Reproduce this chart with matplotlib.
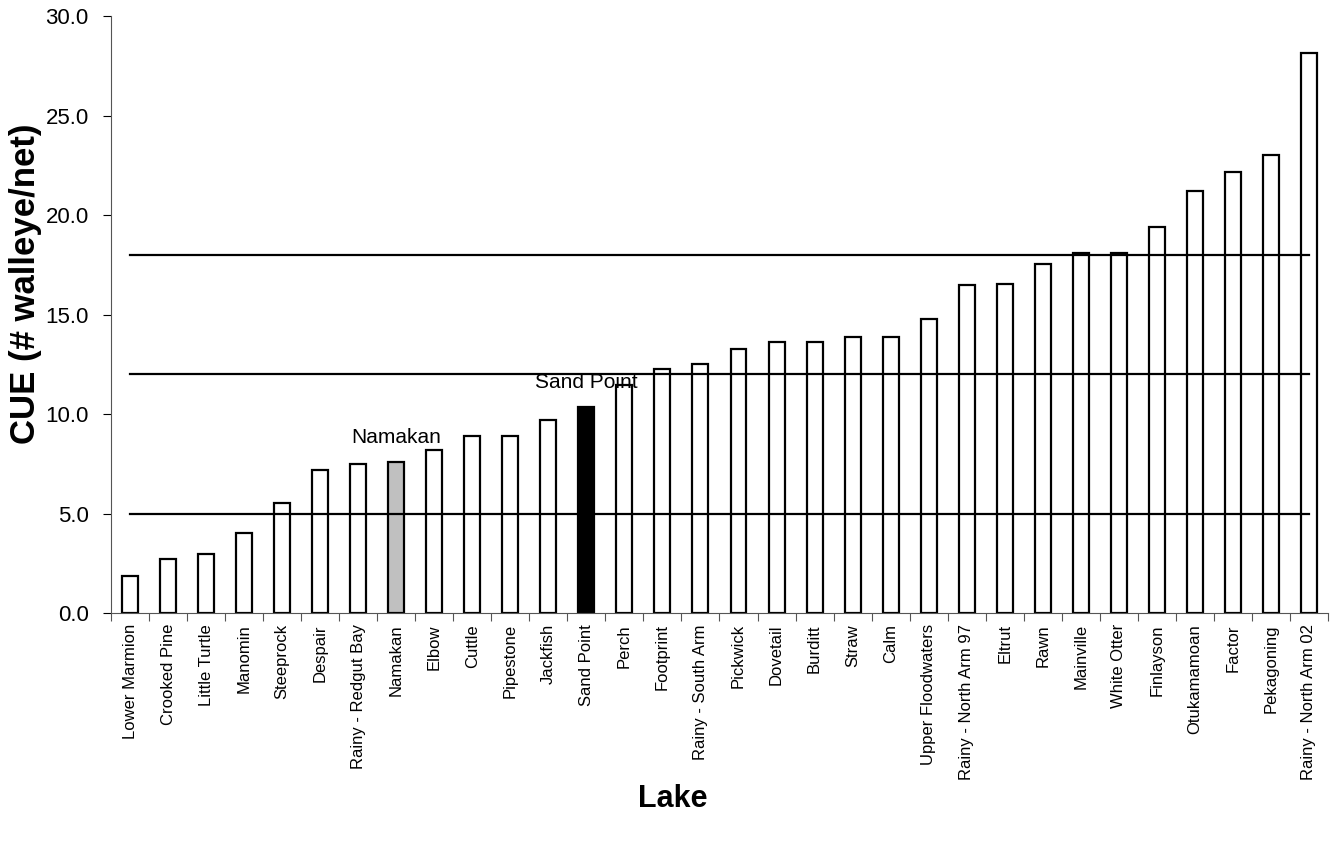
import numpy as np
import matplotlib
matplotlib.use("Agg")
import matplotlib.pyplot as plt

plt.rcParams["font.family"] = ["Liberation Sans", "DejaVu Sans"]

lakes = ["Lower Marmion", "Crooked Pine", "Little Turtle", "Manomin", "Steeprock",
         "Despair", "Rainy - Redgut Bay", "Namakan", "Elbow", "Cuttle", "Pipestone",
         "Jackfish", "Sand Point", "Perch", "Footprint", "Rainy - South Arm",
         "Pickwick", "Dovetail", "Burditt", "Straw", "Calm", "Upper Floodwaters",
         "Rainy - North Arm 97", "Eltrut", "Rawn", "Mainville", "White Otter",
         "Finlayson", "Otukamamoan", "Factor", "Pekagoning", "Rainy - North Arm 02"]
cue = [1.86, 2.73, 2.96, 4.02, 5.51, 7.2, 7.49, 7.6, 8.21, 8.88, 8.9,
       9.68, 10.35, 11.46, 12.26, 12.53, 13.27, 13.6, 13.6, 13.87, 13.87, 14.79,
       16.48, 16.52, 17.52, 18.1, 18.1, 19.42, 21.22, 22.16, 23.02, 28.14]
thresholds = [5.0, 12.0, 18.0]
highlight = {"Namakan": "#c0c0c0", "Sand Point": "black"}

fig = plt.figure(figsize=(13.33, 8.46), dpi=100)
ax = fig.add_axes([0.0833, 0.2754, 0.9129, 0.7056])

x = np.arange(len(lakes))
colors = [highlight.get(l, "white") for l in lakes]
ax.bar(x, cue, width=0.42, color=colors, edgecolor="black", linewidth=1.6, zorder=2)

for t in thresholds:
    ax.plot(x, [t] * len(x), color="black", lw=1.6, zorder=3)

for name in highlight:
    i = lakes.index(name)
    ax.text(i, cue[i] + 0.75, name, ha="center", va="bottom", fontsize=15)

ax.set_xlim(-0.5, len(lakes) - 0.5)
ax.set_ylim(0, 30)
ax.set_yticks(np.arange(0, 30.1, 5))
ax.set_yticklabels([f"{v:.1f}" for v in np.arange(0, 30.1, 5)], fontsize=16)

# ticks at category boundaries, labels at centers
ax.set_xticks(np.arange(-0.5, len(lakes), 1))
ax.set_xticklabels([])
ax.set_xticks(x, minor=True)
ax.set_xticklabels(lakes, minor=True, rotation=90, fontsize=12)
ax.tick_params(axis="x", which="minor", length=0, pad=8)
ax.tick_params(axis="x", which="major", direction="out", length=6, color="#555555")
ax.tick_params(axis="y", direction="out", length=6, pad=10)

ax.spines["top"].set_visible(False)
ax.spines["right"].set_visible(False)
ax.spines["left"].set_color("#555555")
ax.spines["bottom"].set_color("#555555")

fig.text(0.019, 0.665, "CUE (# walleye/net)", rotation=90, ha="center", va="center",
         fontsize=25, fontweight="bold")
fig.text(0.505, 0.055, "Lake", ha="center", va="center", fontsize=22, fontweight="bold")

fig.savefig("out.png", dpi=100)
